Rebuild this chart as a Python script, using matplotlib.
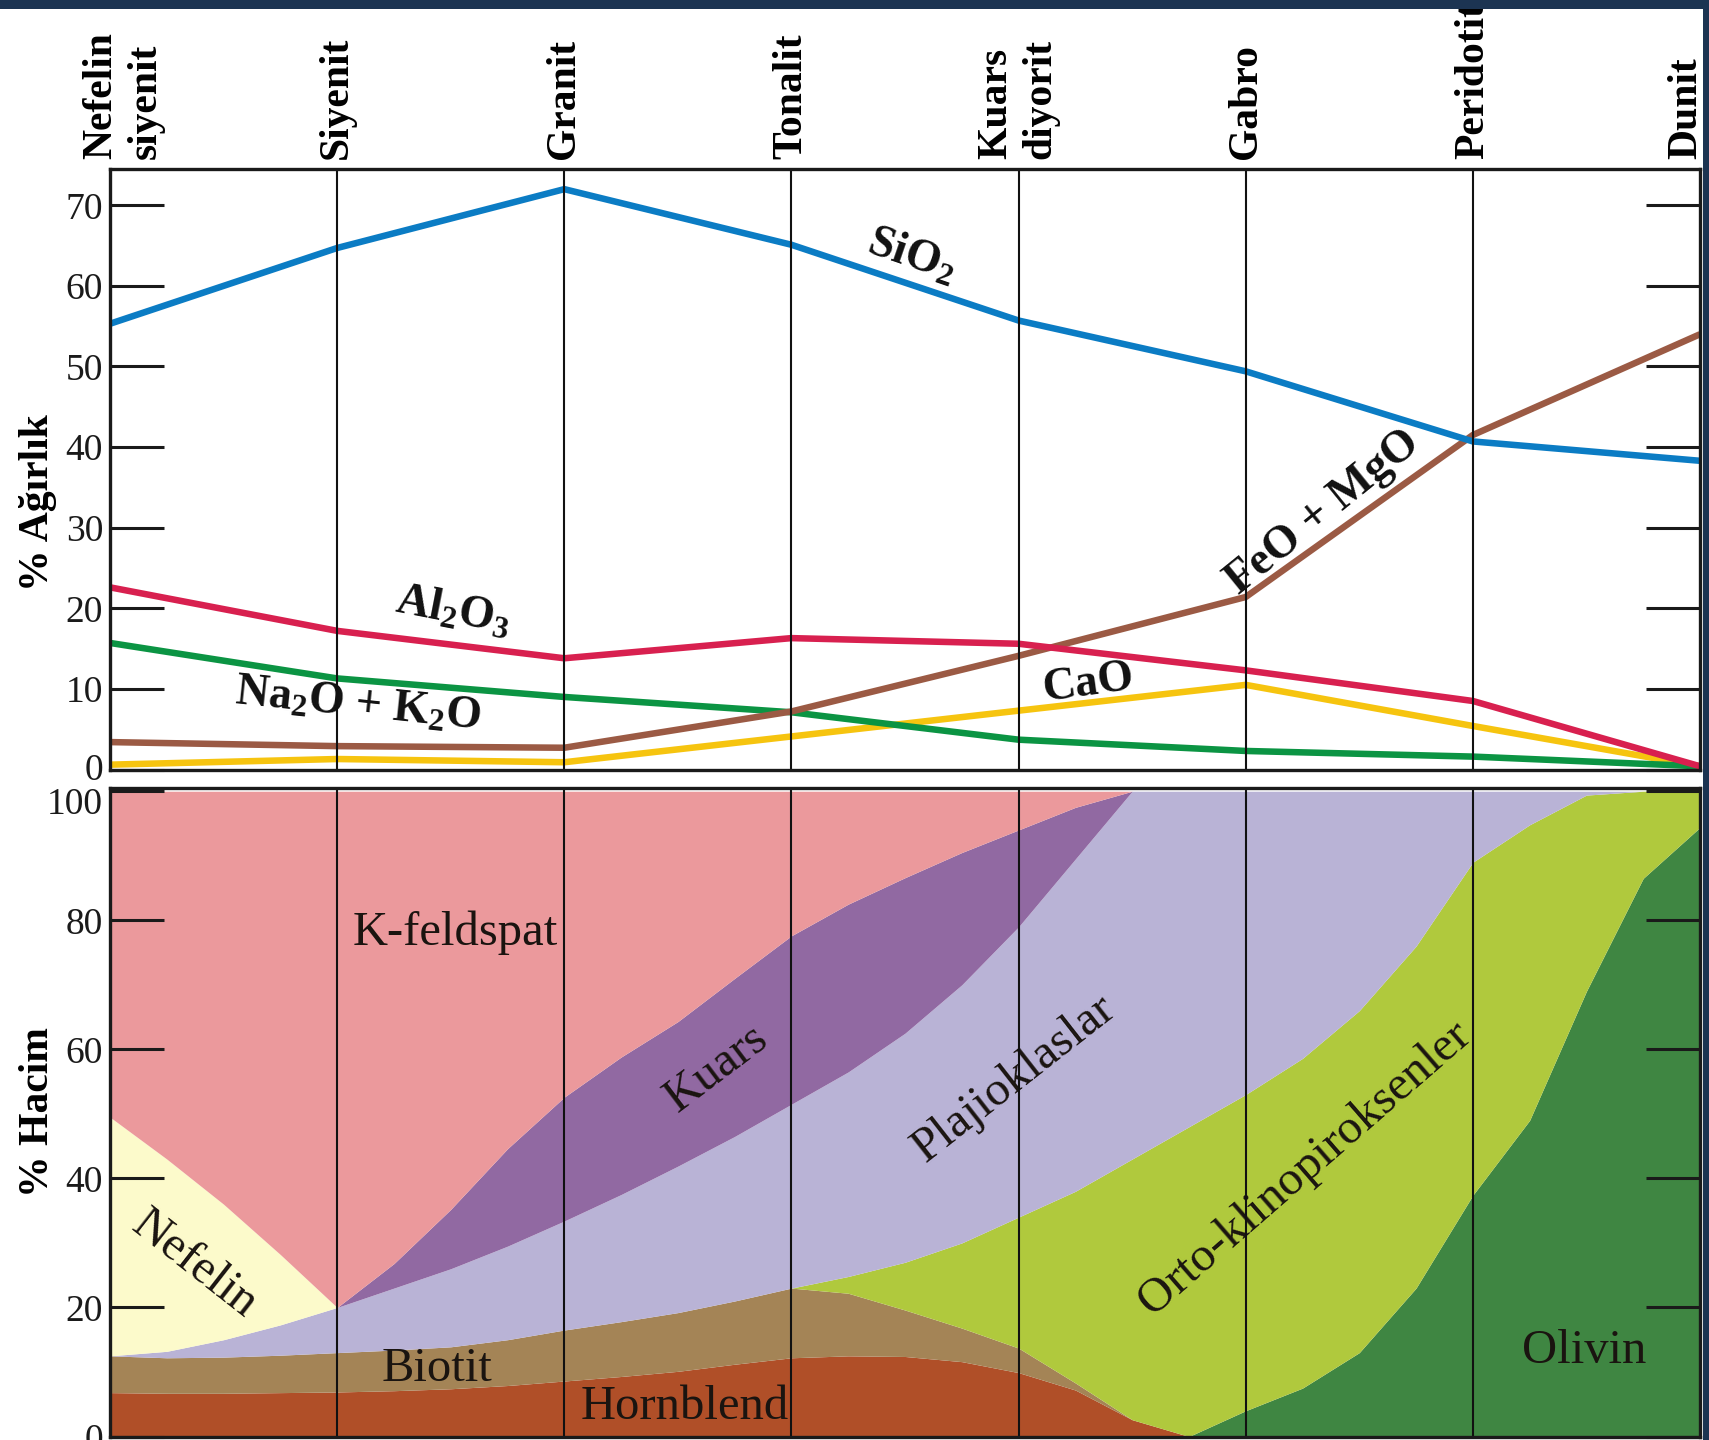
import matplotlib
matplotlib.use("Agg")
import matplotlib.pyplot as plt
from matplotlib.patches import Rectangle
from matplotlib.transforms import ScaledTranslation

plt.rcParams['font.family'] = ['Liberation Serif', 'DejaVu Serif']
plt.rcParams['mathtext.fontset'] = 'custom'
plt.rcParams['mathtext.rm'] = 'Liberation Serif'
plt.rcParams['mathtext.bf'] = 'Liberation Serif:bold'
plt.rcParams['mathtext.it'] = 'Liberation Serif:italic'

# rock types along the x axis
rocks = ['Nefelin\nsiyenit', 'Siyenit', 'Granit', 'Tonalit', 'Kuars\ndiyorit',
         'Gabro', 'Peridotit', 'Dunit']
rock_x = [0.06, 1, 2, 3, 4, 5, 6, 6.94]

# oxide weight % at each rock type
sio2 = [55.3, 64.7, 72.0, 65.1, 55.7, 49.4, 40.7, 38.3]
al2o3 = [22.6, 17.2, 13.8, 16.3, 15.6, 12.3, 8.5, 0.4]
na2o_k2o = [15.7, 11.3, 9.0, 7.1, 3.7, 2.3, 1.6, 0.4]
feo_mgo = [3.4, 2.9, 2.7, 7.2, 14.1, 21.4, 41.5, 54.0]
cao = [0.6, 1.3, 0.9, 4.1, 7.3, 10.5, 5.4, 0.4]

# mineral volume %: upper edge of each zone (stacked from bottom)
xs = [0, .25, .5, .75, 1, 1.25, 1.5, 1.75, 2, 2.25, 2.5, 2.75, 3, 3.25, 3.5,
      3.75, 4, 4.25, 4.5, 4.75, 5, 5.25, 5.5, 5.75, 6, 6.25, 6.5, 6.75, 7]
hornblend = [6.8, 6.7, 6.7, 6.8, 6.9, 7.1, 7.4, 7.9, 8.6, 9.3, 10.1, 11.2, 12.2, 12.5, 12.4,
             11.6, 9.9, 7.2, 2.6, 0, 0, 0, 0, 0, 0, 0, 0, 0, 0]
biotit = [12.5, 12.2, 12.3, 12.6, 13.0, 13.4, 13.9, 15.0, 16.5, 17.8, 19.2, 21.0, 23.0, 22.2, 19.6,
          16.8, 13.7, 8.3, 2.6, 0, 0, 0, 0, 0, 0, 0, 0, 0, 0]
olivin = [12.5, 12.2, 12.3, 12.6, 13.0, 13.4, 13.9, 15.0, 16.5, 17.8, 19.2, 21.0, 23.0, 22.2, 19.6,
          16.8, 13.7, 8.3, 2.6, 0, 4.0, 7.5, 13.0, 23.0, 37.4, 49.0, 69.0, 86.5, 94.4]
piroksen = [12.5, 12.2, 12.3, 12.6, 13.0, 13.4, 13.9, 15.0, 16.5, 17.8, 19.2, 21.0, 23.0, 24.8, 27.0,
            30.0, 34.0, 38.0, 43.0, 48.0, 53.0, 58.6, 66.0, 76.0, 89.0, 94.8, 99.4, 100, 100]
plajioklas = [12.5, 13.2, 15.0, 17.3, 20.0, 23.0, 26.0, 29.5, 33.4, 37.5, 41.9, 46.5, 51.5, 56.5, 62.5,
              70.0, 79.0, 89.5, 100, 100, 100, 100, 100, 100, 100, 100, 100, 100, 100]
nefelin = [49.5, 43.0, 36.0, 28.2, 20.0, 23.0, 26.0, 29.5, 33.4, 37.5, 41.9, 46.5, 51.5, 56.5, 62.5,
           70.0, 79.0, 89.5, 100, 100, 100, 100, 100, 100, 100, 100, 100, 100, 100]
kuars = [49.5, 43.0, 36.0, 28.2, 20.0, 26.8, 35.2, 44.6, 52.6, 58.8, 64.3, 71.0, 77.6, 82.5, 86.6,
         90.5, 94.0, 97.5, 100, 100, 100, 100, 100, 100, 100, 100, 100, 100, 100]
kfeldspat = [100] * len(xs)

W, H = 1709, 1440
fig = plt.figure(figsize=(W / 100, H / 100), dpi=100)
fig.patch.set_facecolor('white')

ax1 = fig.add_axes([110 / W, 1 - 769.5 / H, 1590 / W, (769.5 - 169) / H])
ax2 = fig.add_axes([110 / W, 1 - 1436.5 / H, 1590 / W, (1436.5 - 788) / H])

# ---- top: oxide lines ----
series = [(cao, '#f6c40f'), (na2o_k2o, '#0b9443'), (feo_mgo, '#9b5a44'),
          (al2o3, '#d8204f'), (sio2, '#0b7cc4')]
for k, (vals, col) in enumerate(series):
    ax1.plot(range(8), vals, color=col, lw=4.7, solid_capstyle='butt', zorder=2 + k * 0.1)

ax1.set_xlim(0, 7)
ax1.set_ylim(0, 74.5)
ax1.set_yticks(range(0, 71, 10))

bold = dict(fontweight='bold', fontsize=33, color='#111111', ha='center', va='center')
ax1.text(3.53, 63.7, r'SiO$_\mathbf{2}$', rotation=-19, **bold)
ax1.text(1.51, 19.5, r'Al$_\mathbf{2}$O$_\mathbf{3}$', rotation=-11, **bold)
ax1.text(1.09, 7.9, r'Na$_\mathbf{2}$O + K$_\mathbf{2}$O', rotation=-6, **bold)
ax1.text(4.31, 10.7, 'CaO', rotation=8, **bold)
ax1.text(5.34, 31.9, 'FeO + MgO', rotation=39, **bold)

for x, name in zip(rock_x, rocks):
    ax1.annotate(name, xy=(x, 1), xycoords=('data', 'axes fraction'),
                 xytext=(0, 7), textcoords='offset points', rotation=90,
                 ha='center', va='bottom', fontsize=30, fontweight='bold',
                 linespacing=1.2, multialignment='left', annotation_clip=False)

# ---- bottom: mineral zones ----
zones = [
    (None, hornblend, '#b04f28'),
    (hornblend, biotit, '#a48456'),
    (biotit, olivin, '#3f8642'),
    (olivin, piroksen, '#b0c93d'),
    (piroksen, plajioklas, '#b9b3d6'),
    (plajioklas, nefelin, '#fcfacb'),
    (nefelin, kuars, '#9169a2'),
    (kuars, kfeldspat, '#eb999c'),
]
for lo, hi, col in zones:
    ax2.fill_between(xs, [0] * len(xs) if lo is None else lo, hi,
                     color=col, lw=0, zorder=1)

ax2.set_xlim(0, 7)
ax2.set_ylim(0, 100.5)
ax2.set_yticks(range(0, 101, 20))

reg = dict(fontsize=35, color='#1a1410', ha='center', va='center')
ax2.text(1.52, 78.0, 'K-feldspat', **reg)
ax2.text(2.67, 57.1, 'Kuars', rotation=37, **reg)
ax2.text(3.98, 55.4, 'Plajioklaslar', rotation=38, **reg)
ax2.text(5.26, 41.6, 'Orto-klinopiroksenler', rotation=41, **reg)
ax2.text(0.37, 26.7, 'Nefelin', rotation=-38, **reg)
ax2.text(1.44, 10.5, 'Biotit', **reg)
ax2.text(2.53, 4.6, 'Hornblend', **reg)
ax2.text(6.49, 13.3, 'Olivin', **reg)

for ax in (ax1, ax2):
    for i in range(1, 7):
        ax.axvline(i, color='#111111', lw=1.5, zorder=5)
    ax.set_xticks([])
    ax.tick_params(axis='y', direction='in', length=39, width=2.2, left=True,
                   right=True, labelsize=27, pad=5, colors='#1a1a1a')
    for sp in ax.spines.values():
        sp.set_linewidth(2.4)
        sp.set_color('#1a1a1a')
        sp.set_zorder(6)

# the "100" label sits a little lower and the "0" above it a little higher
top_lab = ax2.yaxis.get_major_ticks()[-1].label1
top_lab.set_transform(top_lab.get_transform() +
                      ScaledTranslation(0, -10 / 100, fig.dpi_scale_trans))
zero_lab = ax1.yaxis.get_major_ticks()[0].label1
zero_lab.set_transform(zero_lab.get_transform() +
                       ScaledTranslation(0, 3 / 100, fig.dpi_scale_trans))

fig.text(38 / W, 1 - 503 / H, '% Ağırlık', rotation=90, ha='center', va='center',
         fontsize=30, fontweight='bold')
fig.text(38 / W, 1 - 1112 / H, '% Hacim', rotation=90, ha='center', va='center',
         fontsize=30, fontweight='bold')

# dark frame strips of the slide at top and right
fig.patches.append(Rectangle((0, 1 - 9 / H), 1, 9 / H, transform=fig.transFigure,
                             facecolor='#1c3452', edgecolor='none', zorder=10))
fig.patches.append(Rectangle((1703 / W, 0), 6 / W, 1, transform=fig.transFigure,
                             facecolor='#1c3452', edgecolor='none', zorder=10))

fig.savefig('out.png', dpi=100)
